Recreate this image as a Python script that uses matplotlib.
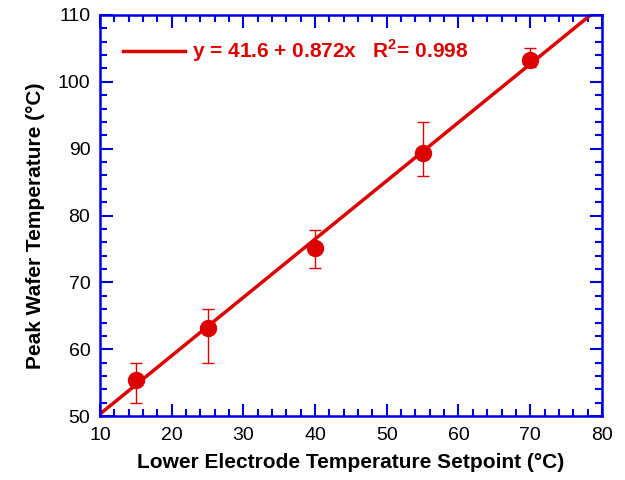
import numpy as np
import matplotlib
matplotlib.use('Agg')
import matplotlib.pyplot as plt
from matplotlib.ticker import MultipleLocator

plt.rcParams['font.family'] = ['Liberation Sans', 'DejaVu Sans']
plt.rcParams['mathtext.fontset'] = 'custom'
plt.rcParams['mathtext.rm'] = 'Liberation Sans'
plt.rcParams['mathtext.bf'] = 'Liberation Sans:bold'

# measured data
setpoint = [15, 25, 40, 55, 70]
peak_temp = [55.4, 63.2, 75.2, 89.4, 103.3]
err_low = [52.0, 58.0, 72.1, 85.9, 102.2]
err_high = [58.0, 66.0, 77.9, 94.0, 105.1]

# linear fit
intercept = 41.6
slope = 0.872

RED = '#dd0000'
BLUE = '#0000dd'

fig = plt.figure(figsize=(6.25, 4.8), dpi=100)
ax = fig.add_axes([0.16, 0.133, 0.803, 0.836])

yerr = [np.array(peak_temp) - np.array(err_low), np.array(err_high) - np.array(peak_temp)]
ax.errorbar(setpoint, peak_temp, yerr=yerr, fmt='o', color=RED, ms=11.5,
            elinewidth=1, capsize=4, capthick=1, zorder=3)

xf = np.array([10, 80])
ax.plot(xf, intercept + slope * xf, color=RED, lw=2.5,
        label=r'y = 41.6 + 0.872x   R$^\mathbf{2}$= 0.998', zorder=2)

ax.set_xlim(10, 80)
ax.set_ylim(50, 110)
ax.xaxis.set_major_locator(MultipleLocator(10))
ax.xaxis.set_minor_locator(MultipleLocator(2))
ax.yaxis.set_major_locator(MultipleLocator(10))
ax.yaxis.set_minor_locator(MultipleLocator(2))
ax.tick_params(which='both', direction='in', top=True, right=True, color=BLUE,
               width=1.5, labelsize=14)
ax.tick_params(which='major', length=9)
ax.tick_params(which='minor', length=5)
ax.tick_params(axis='x', which='major', pad=8)
ax.tick_params(axis='y', which='major', pad=7)
for s in ax.spines.values():
    s.set_color(BLUE)
    s.set_linewidth(1.8)

ax.set_xlabel('Lower Electrode Temperature Setpoint (°C)', fontsize=15, fontweight='bold', labelpad=6)
ax.set_ylabel('Peak Wafer Temperature (°C)', fontsize=15, fontweight='bold', labelpad=8)
ax.yaxis.set_label_coords(-0.11, 0.475)

leg = ax.legend(loc='upper left', frameon=False, handlelength=3.0, handletextpad=0.3,
                prop={'weight': 'bold', 'size': 15}, bbox_to_anchor=(0.008, 0.99))
for t in leg.get_texts():
    t.set_color(RED)

fig.savefig('out.png', dpi=100)
